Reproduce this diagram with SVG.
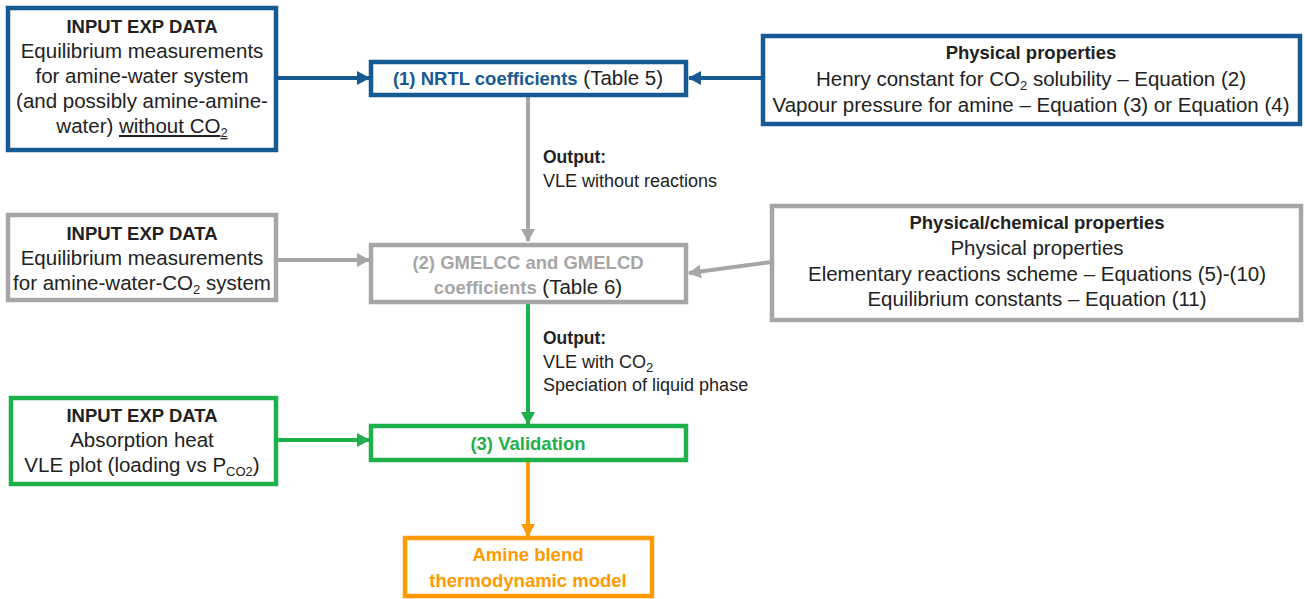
<svg xmlns="http://www.w3.org/2000/svg" width="1305" height="599" viewBox="0 0 1305 599">
<defs>
<style>
text{font-family:"Liberation Sans",Arial,sans-serif;font-size:20.5px;fill:#222;text-anchor:middle}
.b{font-weight:bold;font-size:18.5px}
.sm{font-size:18px;text-anchor:start}
.smb{font-size:17.5px;font-weight:bold;text-anchor:start}
.sub{font-size:13px}
.box{fill:#fff;stroke-width:4.5}
.blue{stroke:#175A93}
.gray{stroke:#A6A6A6}
.green{stroke:#1EB04B}
.orange{stroke:#FF9A00}
.ln{fill:none;stroke-width:4}
</style>
<marker id="ab" markerWidth="14" markerHeight="14" refX="12" refY="7" orient="auto" markerUnits="userSpaceOnUse"><path d="M0,0 L13,7 L0,14 Z" fill="#175A93"/></marker>
<marker id="ag" markerWidth="14" markerHeight="14" refX="12" refY="7" orient="auto" markerUnits="userSpaceOnUse"><path d="M0,0 L13,7 L0,14 Z" fill="#A6A6A6"/></marker>
<marker id="agr" markerWidth="14" markerHeight="14" refX="12" refY="7" orient="auto" markerUnits="userSpaceOnUse"><path d="M0,0 L13,7 L0,14 Z" fill="#1EB04B"/></marker>
<marker id="ao" markerWidth="14" markerHeight="14" refX="12" refY="7" orient="auto" markerUnits="userSpaceOnUse"><path d="M0,0 L13,7 L0,14 Z" fill="#FF9A00"/></marker>
</defs>
<rect width="1305" height="599" fill="#fff"/>

<g id="connectors">
<line class="ln" stroke="#175A93" x1="276" y1="78" x2="369" y2="78" marker-end="url(#ab)"/>
<line class="ln" stroke="#175A93" x1="763" y1="78" x2="689" y2="78" marker-end="url(#ab)"/>
<line class="ln" stroke="#A6A6A6" x1="528" y1="96" x2="528" y2="241" marker-end="url(#ag)"/>
<line class="ln" stroke="#A6A6A6" x1="276" y1="260" x2="369" y2="260" marker-end="url(#ag)"/>
<line class="ln" stroke="#A6A6A6" x1="772" y1="262" x2="689" y2="273" marker-end="url(#ag)"/>
<line class="ln" stroke="#1EB04B" x1="528" y1="304" x2="528" y2="424" marker-end="url(#agr)"/>
<line class="ln" stroke="#1EB04B" x1="276" y1="440" x2="369" y2="440" marker-end="url(#agr)"/>
<line class="ln" stroke="#FF9A00" x1="528" y1="461" x2="528" y2="536" marker-end="url(#ao)"/>
<text class="smb" x="543" y="163">Output:</text>
<text class="sm" x="543" y="187">VLE without reactions</text>
<text class="smb" x="543" y="344">Output:</text>
<text class="sm" x="543" y="368">VLE with CO<tspan class="sub" dy="4">2</tspan></text>
<text class="sm" x="543" y="391">Speciation of liquid phase</text>
</g>

<g id="n1">
<rect class="box blue" x="8" y="8" width="268" height="142"/>
<text class="b" x="142" y="33">INPUT EXP DATA</text>
<text x="142" y="58">Equilibrium measurements</text>
<text x="142" y="83">for amine-water system</text>
<text x="142" y="108">(and possibly amine-amine-</text>
<text x="142" y="133">water) <tspan text-decoration="underline">without CO<tspan class="sub" dy="4">2</tspan></tspan></text>
</g>

<g id="n2">
<rect class="box blue" x="371" y="62" width="315" height="33"/>
<text x="528" y="85"><tspan class="b" style="fill:#175A93">(1) NRTL coefficients</tspan> (Table 5)</text>
</g>

<g id="n3">
<rect class="box blue" x="763" y="36" width="537" height="88"/>
<text class="b" x="1031" y="59">Physical properties</text>
<text x="1031" y="86">Henry constant for CO<tspan class="sub" dy="4">2</tspan><tspan dy="-4"> solubility – Equation (2)</tspan></text>
<text x="1031" y="112">Vapour pressure for amine – Equation (3) or Equation (4)</text>
</g>

<g id="n4">
<rect class="box gray" x="8" y="215" width="268" height="85"/>
<text class="b" x="142" y="240">INPUT EXP DATA</text>
<text x="142" y="265">Equilibrium measurements</text>
<text x="142" y="290">for amine-water-CO<tspan class="sub" dy="4">2</tspan><tspan dy="-4"> system</tspan></text>
</g>

<g id="n5">
<rect class="box gray" x="371" y="245" width="315" height="57"/>
<text class="b" x="528" y="269" style="fill:#A6A6A6">(2) GMELCC and GMELCD</text>
<text x="528" y="294"><tspan class="b" style="fill:#A6A6A6">coefficients</tspan> (Table 6)</text>
</g>

<g id="n6">
<rect class="box gray" x="772" y="206" width="529" height="114"/>
<text class="b" x="1037" y="229">Physical/chemical properties</text>
<text x="1037" y="255">Physical properties</text>
<text x="1037" y="281">Elementary reactions scheme – Equations (5)-(10)</text>
<text x="1037" y="306">Equilibrium constants – Equation (11)</text>
</g>

<g id="n7">
<rect class="box green" x="11" y="398" width="265" height="86"/>
<text class="b" x="142" y="422">INPUT EXP DATA</text>
<text x="142" y="447">Absorption heat</text>
<text x="142" y="472">VLE plot (loading vs P<tspan class="sub" dy="4">CO2</tspan><tspan dy="-4">)</tspan></text>
</g>

<g id="n8">
<rect class="box green" x="371" y="426" width="315" height="34"/>
<text class="b" x="528" y="450" style="fill:#1EB04B">(3) Validation</text>
</g>

<g id="n9">
<rect class="box orange" x="405" y="538" width="247" height="58"/>
<text class="b" x="528" y="561" style="fill:#FF9A00">Amine blend</text>
<text class="b" x="528" y="587" style="fill:#FF9A00">thermodynamic model</text>
</g>
</svg>
